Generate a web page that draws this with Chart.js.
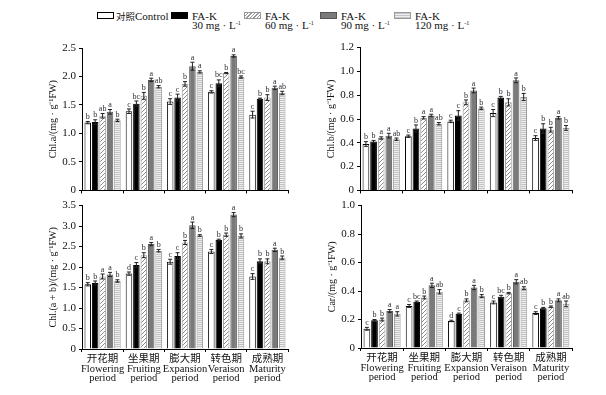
<!DOCTYPE html>
<html>
<head>
<meta charset="utf-8">
<script src="https://cdn.jsdelivr.net/npm/chart.js@4"></script>
<style>
body { margin: 0; width: 606px; height: 395px; background: #fff; position: relative; overflow: hidden;
  font-family: "Liberation Serif", "Noto Sans CJK SC", serif; color: #111; }
.pane { position: absolute; }
.leg { position: absolute; font-size: 11px; line-height: 9px; white-space: nowrap; }
.sw { position: absolute; width: 17px; height: 7px; box-sizing: border-box; }
.sup { font-size: 6px; position: relative; top: -4px; }
.cn { font-size: 9.5px; }
</style>
</head>
<body>
<div class="leg" style="left:97px;top:12px"><div class="sw" style="left:0;top:0;border:1px solid #000;background:#fff"></div><span style="position:absolute;left:19px;top:0"><span class="cn">对照</span>Control</span></div>
<div class="leg" style="left:171px;top:12px"><div class="sw" style="left:0;top:0;background:#000"></div><span style="position:absolute;left:21px;top:0">FA-K<br>30 mg · L<span class="sup">-1</span></span></div>
<div class="leg" style="left:244px;top:12px"><div class="sw" style="left:0;top:0;border:1px solid #999;background:repeating-linear-gradient(135deg,#fff 0 1.5px,#999 1.5px 2.5px)"></div><span style="position:absolute;left:21px;top:0">FA-K<br>60 mg · L<span class="sup">-1</span></span></div>
<div class="leg" style="left:320px;top:12px"><div class="sw" style="left:0;top:0;border:1px solid #555;background:#7a7a7a"></div><span style="position:absolute;left:21px;top:0">FA-K<br>90 mg · L<span class="sup">-1</span></span></div>
<div class="leg" style="left:394px;top:12px"><div class="sw" style="left:0;top:0;border:1px solid #999;background:repeating-linear-gradient(180deg,#c4c4c4 0 1px,#efefef 1px 2px)"></div><span style="position:absolute;left:21px;top:0">FA-K<br>120 mg · L<span class="sup">-1</span></span></div>

<div class="pane" style="left:0;top:38px;width:300px;height:162px"><canvas id="cA"></canvas></div>
<div class="pane" style="left:300px;top:38px;width:306px;height:162px"><canvas id="cB"></canvas></div>
<div class="pane" style="left:0;top:196px;width:300px;height:199px"><canvas id="cAB"></canvas></div>
<div class="pane" style="left:300px;top:196px;width:306px;height:199px"><canvas id="cCar"></canvas></div>

<script>
// growth stages
const periods = [
    ['开花期', 'Flowering', 'period'],
    ['坐果期', 'Fruiting', 'period'],
    ['膨大期', 'Expansion', 'period'],
    ['转色期', 'Veraison', 'period'],
    ['成熟期', 'Maturity', 'period']
];
const treatments = ['对照Control', 'FA-K 30 mg·L-1', 'FA-K 60 mg·L-1', 'FA-K 90 mg·L-1', 'FA-K 120 mg·L-1'];

// rows = treatment (control, 30, 60, 90, 120), columns = period
const chlAValues = [
    [1.19, 1.39, 1.56, 1.73, 1.33],
    [1.20, 1.52, 1.63, 1.88, 1.61],
    [1.31, 1.66, 1.87, 2.06, 1.63],
    [1.38, 1.94, 2.18, 2.36, 1.80],
    [1.23, 1.82, 2.08, 1.99, 1.71]
];
const chlAErrors = [
    [0.02, 0.04, 0.05, 0.02, 0.06],
    [0.04, 0.05, 0.06, 0.06, 0.01],
    [0.04, 0.06, 0.04, 0.01, 0.05],
    [0.04, 0.03, 0.07, 0.02, 0.03],
    [0.02, 0.02, 0.02, 0.02, 0.03]
];
const chlALetters = [
    ['b', 'c', 'c', 'c', 'c'],
    ['b', 'bc', 'c', 'bc', 'b'],
    ['ab', 'b', 'b', 'b', 'b'],
    ['a', 'a', 'a', 'a', 'a'],
    ['b', 'ab', 'a', 'bc', 'ab']
];

const chlBValues = [
    [0.39, 0.455, 0.58, 0.65, 0.44],
    [0.41, 0.52, 0.63, 0.78, 0.52],
    [0.44, 0.61, 0.74, 0.74, 0.51],
    [0.46, 0.63, 0.84, 0.925, 0.61],
    [0.43, 0.56, 0.69, 0.785, 0.525]
];
const chlBErrors = [
    [0.02, 0.01, 0.01, 0.03, 0.02],
    [0.01, 0.03, 0.04, 0.01, 0.04],
    [0.01, 0.01, 0.02, 0.03, 0.02],
    [0.02, 0.01, 0.02, 0.02, 0.01],
    [0.01, 0.01, 0.01, 0.03, 0.02]
];
const chlBLetters = [
    ['b', 'c', 'c', 'c', 'c'],
    ['b', 'b', 'c', 'b', 'b'],
    ['a', 'a', 'b', 'b', 'b'],
    ['a', 'a', 'a', 'a', 'a'],
    ['ab', 'ab', 'b', 'b', 'b']
];

const chlABValues = [
    [1.58, 1.84, 2.13, 2.38, 1.77],
    [1.61, 2.05, 2.27, 2.66, 2.14],
    [1.77, 2.29, 2.60, 2.79, 2.14],
    [1.82, 2.56, 3.02, 3.28, 2.42],
    [1.66, 2.40, 2.77, 2.76, 2.23]
];
const chlABErrors = [
    [0.04, 0.04, 0.06, 0.05, 0.07],
    [0.05, 0.06, 0.08, 0.02, 0.06],
    [0.06, 0.06, 0.05, 0.04, 0.06],
    [0.05, 0.04, 0.08, 0.05, 0.04],
    [0.03, 0.03, 0.02, 0.05, 0.04]
];
const chlABLetters = [
    ['b', 'd', 'c', 'c', 'c'],
    ['b', 'c', 'c', 'b', 'b'],
    ['a', 'b', 'b', 'b', 'b'],
    ['a', 'a', 'a', 'a', 'a'],
    ['b', 'b', 'b', 'b', 'b']
];

const carValues = [
    [0.135, 0.295, 0.19, 0.32, 0.245],
    [0.195, 0.325, 0.24, 0.36, 0.28],
    [0.20, 0.355, 0.335, 0.385, 0.29],
    [0.26, 0.44, 0.425, 0.465, 0.335],
    [0.24, 0.395, 0.365, 0.42, 0.31]
];
const carErrors = [
    [0.01, 0.01, 0.005, 0.01, 0.01],
    [0.005, 0.005, 0.005, 0.01, 0.005],
    [0.01, 0.01, 0.01, 0.005, 0.005],
    [0.01, 0.015, 0.015, 0.015, 0.01],
    [0.015, 0.015, 0.01, 0.01, 0.02]
];
const carLetters = [
    ['c', 'c', 'd', 'c', 'c'],
    ['b', 'bc', 'c', 'bc', 'b'],
    ['b', 'b', 'b', 'b', 'b'],
    ['a', 'a', 'a', 'a', 'a'],
    ['a', 'ab', 'b', 'ab', 'ab']
];

const FONT = '"Liberation Serif", "Noto Sans CJK SC", serif';

function makePattern(kind) {
    const c = document.createElement('canvas');
    const g = c.getContext('2d');
    if (kind === 'hatch') {
        c.width = 4; c.height = 4;
        g.fillStyle = '#fff'; g.fillRect(0, 0, 4, 4);
        g.strokeStyle = '#8a8a8a'; g.lineWidth = 1;
        g.beginPath();
        g.moveTo(0, 4); g.lineTo(4, 0);
        g.moveTo(-1, 1); g.lineTo(1, -1);
        g.moveTo(3, 5); g.lineTo(5, 3);
        g.stroke();
    } else {
        c.width = 2; c.height = 2;
        g.fillStyle = '#efefef'; g.fillRect(0, 0, 2, 2);
        g.fillStyle = '#c2c2c2'; g.fillRect(0, 0, 2, 1);
    }
    return g.createPattern(c, 'repeat');
}

const barFill = ['#ffffff', '#000000', makePattern('hatch'), '#7a7a7a', makePattern('stripe')];
const barBorder = ['#000000', '#000000', '#999999', '#555555', '#999999'];

// error bars and significance letters, placed through the y scale
const errorPlugin = {
    id: 'errorBars',
    afterDatasetsDraw(chart) {
        const ctx = chart.ctx;
        const y = chart.scales.y;
        const errs = chart.options.plugins.errorBars.errors;
        const letters = chart.options.plugins.errorBars.letters;
        ctx.save();
        chart.data.datasets.forEach((ds, i) => {
            const meta = chart.getDatasetMeta(i);
            meta.data.forEach((bar, j) => {
                const v = ds.data[j], e = errs[i][j];
                const yt = y.getPixelForValue(v + e);
                const yb = y.getPixelForValue(v - e);
                ctx.strokeStyle = '#222';
                ctx.lineWidth = 1;
                ctx.beginPath();
                ctx.moveTo(bar.x, yt); ctx.lineTo(bar.x, yb);
                ctx.moveTo(bar.x - 2, yt); ctx.lineTo(bar.x + 2, yt);
                ctx.moveTo(bar.x - 2, yb); ctx.lineTo(bar.x + 2, yb);
                ctx.stroke();
                ctx.fillStyle = '#2a2a35';
                ctx.font = '8px ' + FONT;
                ctx.textAlign = 'center';
                ctx.textBaseline = 'bottom';
                ctx.fillText(letters[i][j], bar.x, yt - 0.5);
            });
        });
        ctx.restore();
    }
};

function drawPanel(id, values, errors, letters, opts) {
    const ctx = document.getElementById(id).getContext('2d');
    new Chart(ctx, {
        type: 'bar',
        data: {
            labels: periods,
            datasets: treatments.map((name, i) => ({
                label: name,
                data: values[i],
                backgroundColor: barFill[i],
                borderColor: barBorder[i],
                borderWidth: 1,
                barPercentage: 0.88,
                categoryPercentage: 0.9
            }))
        },
        options: {
            responsive: true,
            maintainAspectRatio: false,
            animation: false,
            layout: { padding: { left: opts.padLeft, right: opts.padRight, top: opts.padTop, bottom: 0 } },
            plugins: {
                legend: { display: false },
                tooltip: { enabled: false },
                errorBars: { errors: errors, letters: letters }
            },
            scales: {
                x: {
                    grid: { display: true, drawOnChartArea: false, drawTicks: true, tickLength: 3, color: '#000' },
                    border: { color: '#000', width: 1 },
                    ticks: {
                        display: opts.showX,
                        color: '#111',
                        padding: 3,
                        maxRotation: 0,
                        autoSkip: false,
                        font: { family: FONT, size: 10.5, lineHeight: 0.9 }
                    },
                    afterFit: (s) => { s.height = opts.xHeight; }
                },
                y: {
                    min: 0,
                    max: opts.max,
                    grid: { display: true, drawOnChartArea: false, drawTicks: true, tickLength: 3, color: '#000' },
                    border: { color: '#000', width: 1 },
                    ticks: {
                        stepSize: opts.step,
                        color: '#111',
                        padding: 3,
                        font: { family: FONT, size: 11 },
                        callback: (v) => v === 0 ? '0' : v.toFixed(1)
                    },
                    title: {
                        display: true,
                        text: opts.title,
                        color: '#111',
                        padding: { top: 0, bottom: 2 },
                        font: { family: FONT, size: 10 }
                    },
                    afterFit: (s) => { s.width = opts.yWidth; }
                }
            }
        },
        plugins: [errorPlugin]
    });
}

drawPanel('cA', chlAValues, chlAErrors, chlALetters,
    { max: 2.5, step: 0.5, title: 'Chl.a/(mg · g⁻¹FW)', padLeft: 47, yWidth: 35, padRight: 12, padTop: 10, xHeight: 9, showX: false });
drawPanel('cB', chlBValues, chlBErrors, chlBLetters,
    { max: 1.2, step: 0.2, title: 'Chl.b/(mg · g⁻¹FW)', padLeft: 25, yWidth: 35, padRight: 34, padTop: 9, xHeight: 9, showX: false });
drawPanel('cAB', chlABValues, chlABErrors, chlABLetters,
    { max: 3.5, step: 0.5, title: 'Chl.(a + b)/(mg · g⁻¹FW)', padLeft: 47, yWidth: 35, padRight: 12, padTop: 8, xHeight: 46, showX: true });
drawPanel('cCar', carValues, carErrors, carLetters,
    { max: 1.0, step: 0.2, title: 'Car/(mg · g⁻¹FW)', padLeft: 26, yWidth: 35, padRight: 34, padTop: 9, xHeight: 47, showX: true });
</script>
</body>
</html>
